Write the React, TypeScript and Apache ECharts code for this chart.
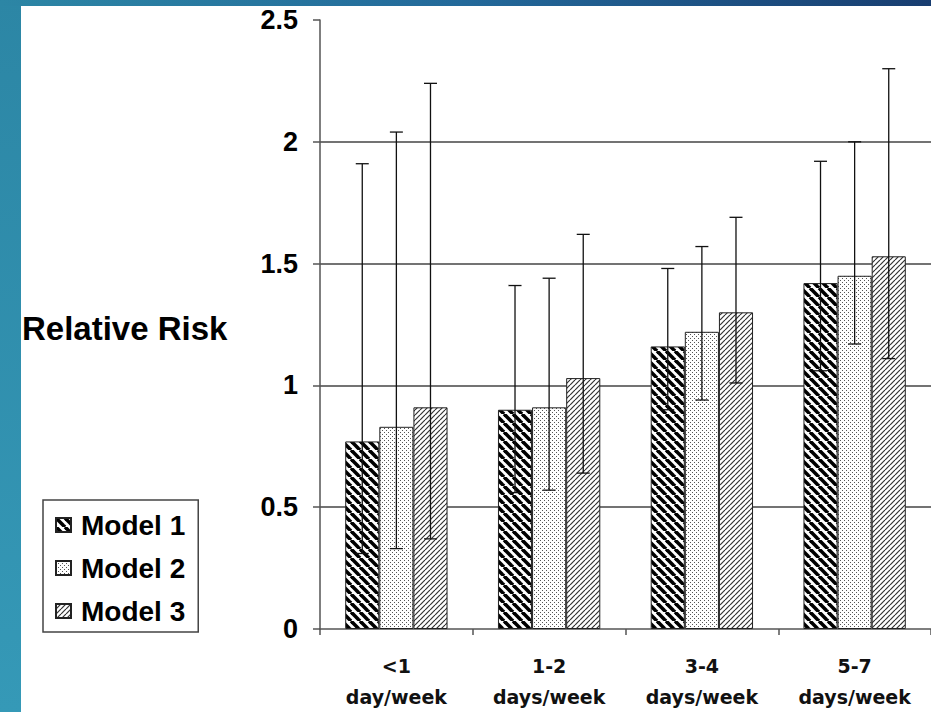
import React, { useEffect, useRef } from 'react';
import * as echarts from 'echarts';

const categories = ['<1\nday/week', '1-2\ndays/week', '3-4\ndays/week', '5-7\ndays/week'];
const seriesNames = ['Model 1', 'Model 2', 'Model 3'];
const model1 = [0.77, 0.9, 1.16, 1.42];
const model2 = [0.83, 0.91, 1.22, 1.45];
const model3 = [0.91, 1.03, 1.3, 1.53];
const model1Low = [0.31, 0.56, 0.9, 1.06];
const model1High = [1.91, 1.41, 1.48, 1.92];
const model2Low = [0.33, 0.57, 0.94, 1.17];
const model2High = [2.04, 1.44, 1.57, 2.0];
const model3Low = [0.37, 0.64, 1.01, 1.11];
const model3High = [2.24, 1.62, 1.69, 2.3];
const yMin = 0;
const yMax = 2.5;
const yInterval = 0.5;
const yAxisTitle = 'Relative Risk';

const BAR_CAT_GAP = 0.33;

function makeTile(size: number, draw: (ctx: CanvasRenderingContext2D, s: number) => void) {
  const c = document.createElement('canvas');
  c.width = size;
  c.height = size;
  const ctx = c.getContext('2d') as CanvasRenderingContext2D;
  ctx.fillStyle = '#ffffff';
  ctx.fillRect(0, 0, size, size);
  draw(ctx, size);
  return { image: c, repeat: 'repeat', imageWidth: size, imageHeight: size } as any;
}

export default function App() {
  const ref = useRef<HTMLDivElement>(null);
  useEffect(() => {
    if (!ref.current) return;
    const chart = echarts.init(ref.current, null, { renderer: 'svg' });

    const back = makeTile(9, (ctx, s) => {
      ctx.strokeStyle = '#000';
      ctx.lineWidth = 3.6;
      for (const o of [-s, 0, s]) {
        ctx.beginPath();
        ctx.moveTo(o, 0);
        ctx.lineTo(o + s, s);
        ctx.stroke();
      }
    });
    const dots = makeTile(4, (ctx) => {
      ctx.fillStyle = '#555';
      ctx.fillRect(0, 0, 1, 1);
      ctx.fillRect(2, 2, 1, 1);
    });
    const fwd = makeTile(5, (ctx, s) => {
      ctx.strokeStyle = '#333';
      ctx.lineWidth = 1.2;
      for (const o of [-s, 0, s]) {
        ctx.beginPath();
        ctx.moveTo(o, s);
        ctx.lineTo(o + s, 0);
        ctx.stroke();
      }
    });
    const patterns = [back, dots, fwd];
    const values = [model1, model2, model3];
    const lows = [model1Low, model2Low, model3Low];
    const highs = [model1High, model2High, model3High];

    const errData: number[][] = [];
    for (let m = 0; m < 3; m++) {
      for (let c = 0; c < categories.length; c++) {
        errData.push([c, m, lows[m][c], highs[m][c]]);
      }
    }

    const barSeries = seriesNames.map((name, i) => ({
      name,
      type: 'bar',
      data: values[i],
      barGap: '0%',
      barCategoryGap: BAR_CAT_GAP * 100 + '%',
      itemStyle: { color: patterns[i], borderColor: '#222', borderWidth: 1 },
      z: 2,
    }));

    const option: any = {
      animation: false,
      backgroundColor: '#ffffff',
      grid: { left: 320, right: -14, top: 20, bottom: 77, containLabel: false },
      legend: {
        data: seriesNames,
        orient: 'vertical',
        left: 43,
        top: 500,
        padding: [11, 13, 7, 12],
        itemGap: 15,
        itemWidth: 15,
        itemHeight: 14,
        icon: 'rect',
        borderColor: '#444',
        borderWidth: 1.5,
        backgroundColor: '#fff',
        selectedMode: false,
        textStyle: {
          fontFamily: 'Liberation Sans, Arial, sans-serif',
          fontWeight: 'bold',
          fontSize: 28,
          lineHeight: 28,
          color: '#000',
          padding: [0, 0, 0, 5],
        },
      },
      xAxis: {
        type: 'category',
        data: categories,
        axisLine: { lineStyle: { color: '#555', width: 1.5 } },
        axisTick: { show: true, length: 6, alignWithLabel: false, lineStyle: { color: '#555', width: 1.5 } },
        axisLabel: {
          interval: 0,
          fontFamily: 'DejaVu Sans, sans-serif',
          fontWeight: 'bold',
          fontSize: 19,
          lineHeight: 31,
          margin: 21,
          color: '#111',
        },
      },
      yAxis: {
        type: 'value',
        min: yMin,
        max: yMax,
        interval: yInterval,
        axisLine: { show: true, lineStyle: { color: '#555', width: 1.5 } },
        axisTick: { show: true, length: 7, lineStyle: { color: '#555', width: 1.5 } },
        axisLabel: {
          fontFamily: 'Liberation Sans, Arial, sans-serif',
          fontWeight: 'bold',
          fontSize: 27,
          margin: 22,
          color: '#000',
        },
        splitLine: {
          show: true,
          showMaxLine: false,
          showMinLine: false,
          lineStyle: { color: '#444', width: 1.5 },
        },
      },
      graphic: [
        {
          type: 'rect',
          z: -10,
          shape: { x: 0, y: 0, width: 21, height: 712 },
          style: {
            fill: new echarts.graphic.LinearGradient(0, 0, 0, 1, [
              { offset: 0, color: '#2c86a5' },
              { offset: 1, color: '#3599b7' },
            ]),
          },
          silent: true,
        },
        {
          type: 'rect',
          z: -10,
          shape: { x: 0, y: 0, width: 931, height: 6 },
          style: {
            fill: new echarts.graphic.LinearGradient(0, 0, 1, 0, [
              { offset: 0, color: '#2c86a5' },
              { offset: 0.5, color: '#23699a' },
              { offset: 1, color: '#183d70' },
            ]),
          },
          silent: true,
        },
        {
          type: 'text',
          left: 22,
          top: 312,
          style: {
            text: yAxisTitle,
            fontFamily: 'Liberation Sans, Arial, sans-serif',
            fontWeight: 'bold',
            fontSize: 33,
            fill: '#000',
          },
          silent: true,
        },
      ],
      series: [
        ...barSeries,
        {
          name: 'error',
          type: 'custom',
          data: errData,
          encode: { x: 0, y: [2, 3] },
          z: 10,
          silent: true,
          renderItem: (params: any, api: any) => {
            const cat = api.value(0);
            const m = api.value(1);
            const lo = api.coord([cat, api.value(2)]);
            const hi = api.coord([cat, api.value(3)]);
            const band = api.size([1, 0])[0];
            const bw = (band * (1 - BAR_CAT_GAP)) / 3;
            const x = lo[0] + (m - 1) * bw;
            const cap = 6.5;
            const st = { stroke: '#111', lineWidth: 1.3 };
            return {
              type: 'group',
              children: [
                { type: 'line', shape: { x1: x, y1: hi[1], x2: x, y2: lo[1] }, style: st },
                { type: 'line', shape: { x1: x - cap, y1: hi[1], x2: x + cap, y2: hi[1] }, style: st },
                { type: 'line', shape: { x1: x - cap, y1: lo[1], x2: x + cap, y2: lo[1] }, style: st },
              ],
            };
          },
        },
      ],
    };
    chart.setOption(option);
    return () => chart.dispose();
  }, []);
  return (
    <div
      ref={ref}
      style={{ position: 'fixed', left: 0, top: 0, width: 931, height: 712 }}
    />
  );
}
